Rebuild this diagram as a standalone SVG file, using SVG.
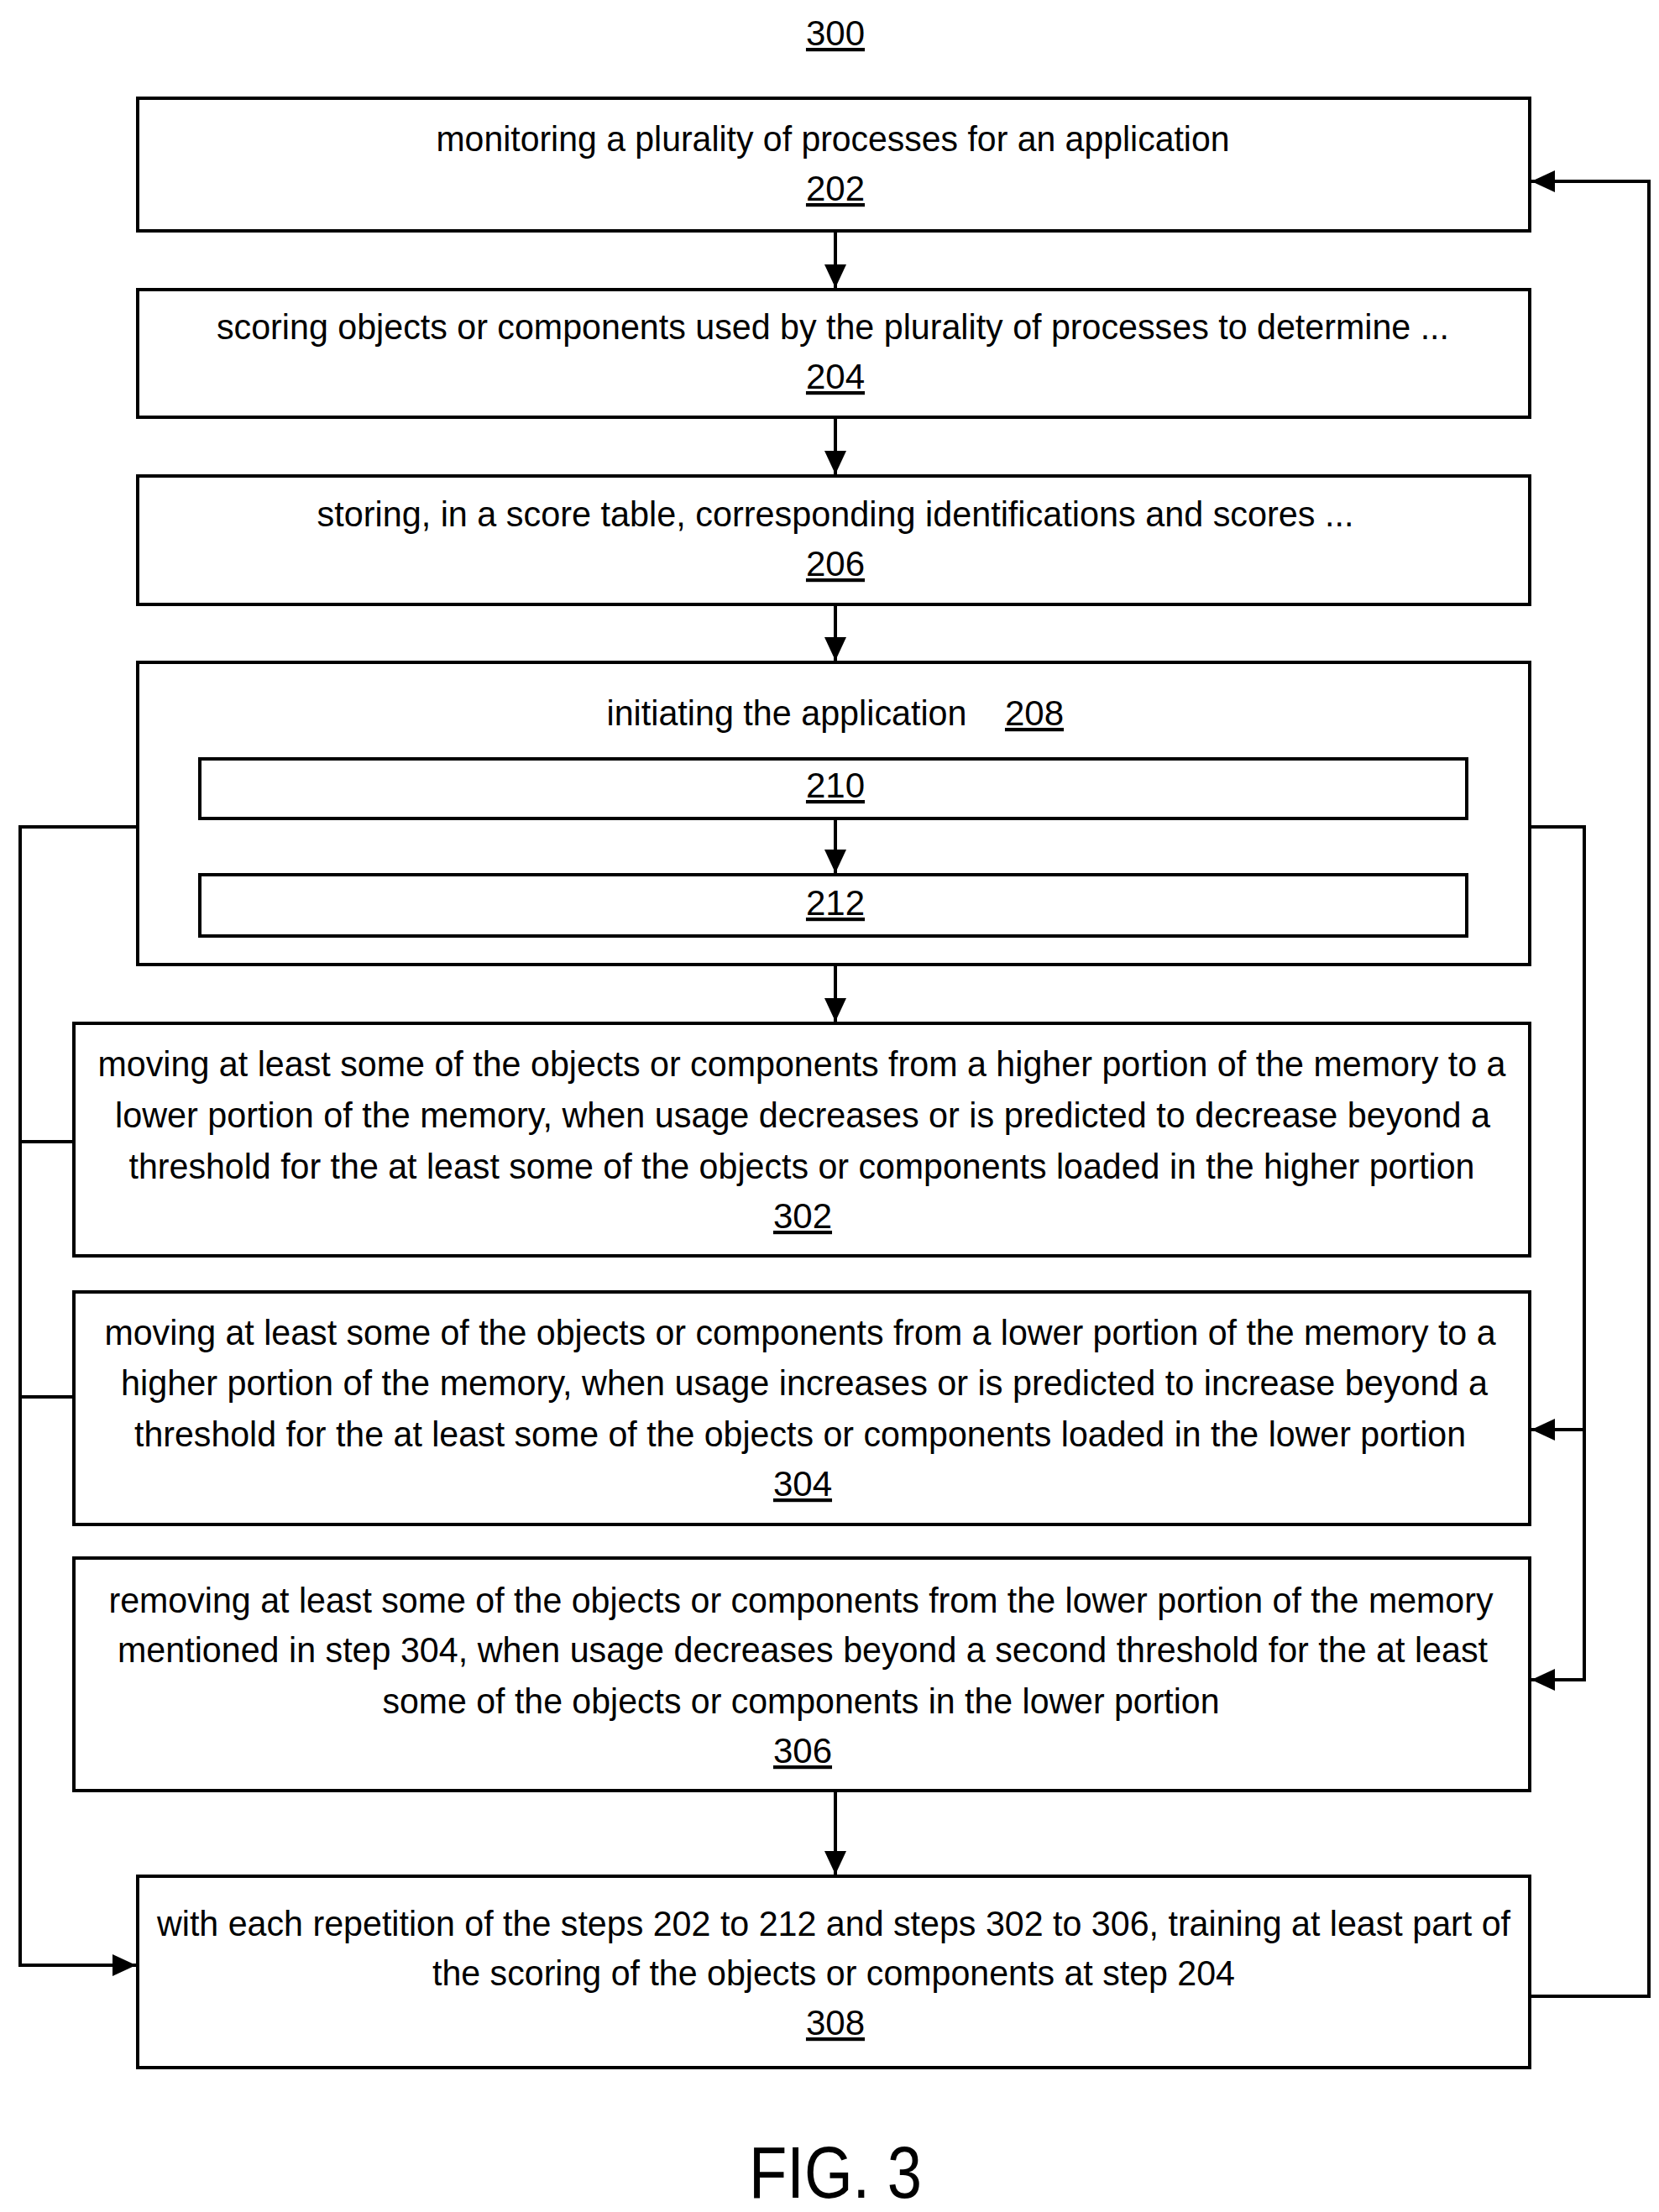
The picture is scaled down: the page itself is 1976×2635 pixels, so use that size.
<svg xmlns="http://www.w3.org/2000/svg" width="1976" height="2635" viewBox="0 0 1976 2635">
<style>
rect{fill:#fff;stroke:#000;stroke-width:4}
text{font-family:"Liberation Sans",Arial,sans-serif;font-size:42px;fill:#000;text-anchor:middle}
.n{text-decoration:underline}
.c path{fill:none;stroke:#000;stroke-width:4}
</style>
<defs><marker id="a" markerUnits="userSpaceOnUse" markerWidth="30" markerHeight="30" refX="28" refY="15" orient="auto"><path d="M0,2 L28,15 L0,28 Z" fill="#000"/></marker></defs>
<text x="995" y="54" class="n">300</text>
<g id="n202"><rect x="164" y="117" width="1658" height="158"/><text x="992" y="180" textLength="945" lengthAdjust="spacingAndGlyphs">monitoring a plurality of processes for an application</text><text x="995" y="239" class="n">202</text></g>
<g id="n204"><rect x="164" y="345" width="1658" height="152"/><text x="992" y="404" textLength="1468" lengthAdjust="spacingAndGlyphs">scoring objects or components used by the plurality of processes to determine ...</text><text x="995" y="463" class="n">204</text></g>
<g id="n206"><rect x="164" y="567" width="1658" height="153"/><text x="995" y="627" textLength="1235" lengthAdjust="spacingAndGlyphs">storing, in a score table, corresponding identifications and scores ...</text><text x="995" y="686" class="n">206</text></g>
<g id="n208"><rect x="164" y="789" width="1658" height="360"/><text x="937" y="864" textLength="429" lengthAdjust="spacingAndGlyphs">initiating the application</text><text x="1232" y="864" class="n">208</text></g>
<g id="n210"><rect x="238" y="904" width="1509" height="71"/><text x="995" y="950" class="n">210</text></g>
<g id="n212"><rect x="238" y="1042" width="1509" height="73"/><text x="995" y="1090" class="n">212</text></g>
<g id="n302"><rect x="88" y="1219" width="1734" height="277"/><text x="955" y="1282" textLength="1677" lengthAdjust="spacingAndGlyphs">moving at least some of the objects or components from a higher portion of the memory to a</text><text x="956" y="1343" textLength="1638" lengthAdjust="spacingAndGlyphs">lower portion of the memory, when usage decreases or is predicted to decrease beyond a</text><text x="955" y="1404" textLength="1603" lengthAdjust="spacingAndGlyphs">threshold for the at least some of the objects or components loaded in the higher portion</text><text x="956" y="1463" class="n">302</text></g>
<g id="n304"><rect x="88" y="1539" width="1734" height="277"/><text x="953" y="1602" textLength="1657" lengthAdjust="spacingAndGlyphs">moving at least some of the objects or components from a lower portion of the memory to a</text><text x="958" y="1662" textLength="1628" lengthAdjust="spacingAndGlyphs">higher portion of the memory, when usage increases or is predicted to increase beyond a</text><text x="953" y="1723" textLength="1586" lengthAdjust="spacingAndGlyphs">threshold for the at least some of the objects or components loaded in the lower portion</text><text x="956" y="1782" class="n">304</text></g>
<g id="n306"><rect x="88" y="1856" width="1734" height="277"/><text x="954" y="1921" textLength="1649" lengthAdjust="spacingAndGlyphs">removing at least some of the objects or components from the lower portion of the memory</text><text x="956" y="1980" textLength="1632" lengthAdjust="spacingAndGlyphs">mentioned in step 304, when usage decreases beyond a second threshold for the at least</text><text x="954" y="2041" textLength="997" lengthAdjust="spacingAndGlyphs">some of the objects or components in the lower portion</text><text x="956" y="2100" class="n">306</text></g>
<g id="n308"><rect x="164" y="2235" width="1658" height="228"/><text x="993" y="2306" textLength="1612" lengthAdjust="spacingAndGlyphs">with each repetition of the steps 202 to 212 and steps 302 to 306, training at least part of</text><text x="993" y="2365" textLength="956" lengthAdjust="spacingAndGlyphs">the scoring of the objects or components at step 204</text><text x="995" y="2424" class="n">308</text></g>
<text x="995" y="2618" style="font-size:88px" textLength="206" lengthAdjust="spacingAndGlyphs">FIG. 3</text>
<g class="c" id="connectors">
<path d="M995,275 V343" marker-end="url(#a)"/>
<path d="M995,497 V565" marker-end="url(#a)"/>
<path d="M995,720 V787" marker-end="url(#a)"/>
<path d="M995,975 V1040" marker-end="url(#a)"/>
<path d="M995,1149 V1217" marker-end="url(#a)"/>
<path d="M995,2133 V2233" marker-end="url(#a)"/>
<path d="M164,985 H24 V2341 H162" marker-end="url(#a)"/>
<path d="M88,1360 H24"/>
<path d="M88,1664 H24"/>
<path d="M1822,985 H1887 V2001 H1824" marker-end="url(#a)"/>
<path d="M1887,1703 H1824" marker-end="url(#a)"/>
<path d="M1822,2378 H1964 V216 H1824" marker-end="url(#a)"/>
</g>
</svg>
